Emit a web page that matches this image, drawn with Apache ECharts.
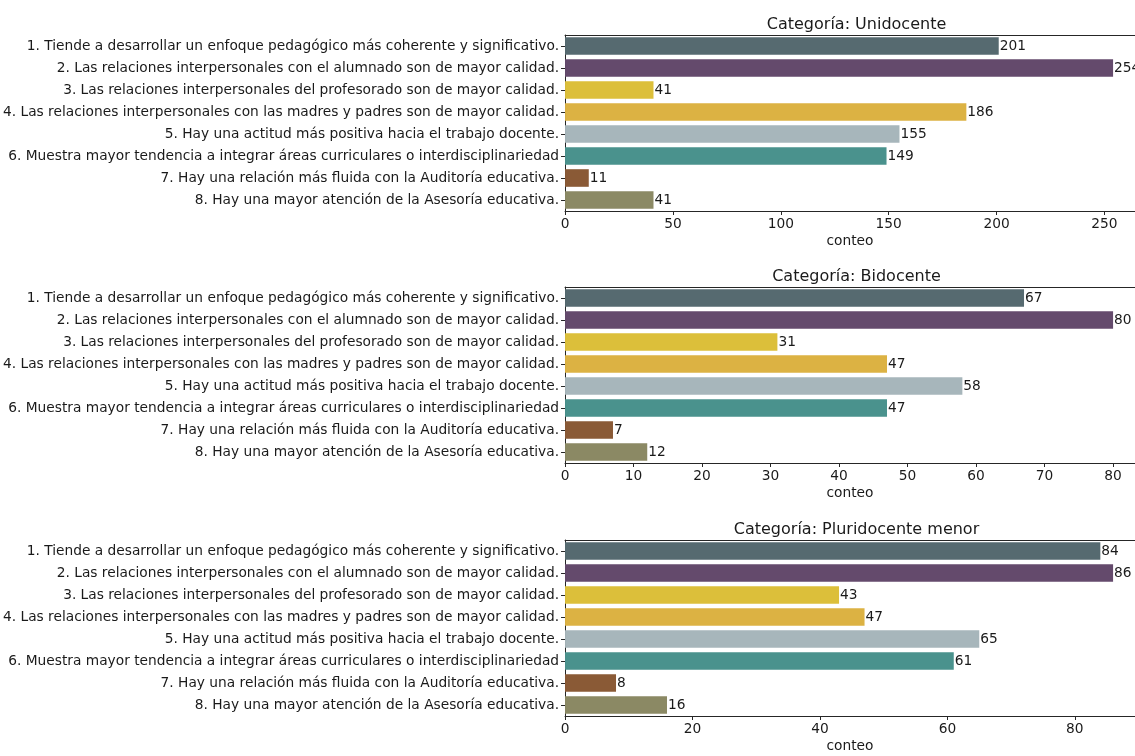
<!DOCTYPE html>
<html><head><meta charset="utf-8">
<script src="https://cdn.jsdelivr.net/npm/echarts@6/dist/echarts.min.js"></script>
<style>html,body{margin:0;padding:0;background:#fff;overflow:hidden}#c{width:1135px;height:756px}</style>
</head><body><div id="c"></div>
<script>
const categories = [
  '1. Tiende a desarrollar un enfoque pedagógico más coherente y significativo.',
  '2. Las relaciones interpersonales con el alumnado son de mayor calidad.',
  '3. Las relaciones interpersonales del profesorado son de mayor calidad.',
  '4. Las relaciones interpersonales con las madres y padres son de mayor calidad.',
  '5. Hay una actitud más positiva hacia el trabajo docente.',
  '6. Muestra mayor tendencia a integrar áreas curriculares o interdisciplinariedad',
  '7. Hay una relación más fluida con la Auditoría educativa.',
  '8. Hay una mayor atención de la Asesoría educativa.'
];
const panelTitles = ['Categoría: Unidocente', 'Categoría: Bidocente', 'Categoría: Pluridocente menor'];
const unidocente = [201, 254, 41, 186, 155, 149, 11, 41];
const bidocente = [67, 80, 31, 47, 58, 47, 7, 12];
const pluridocenteMenor = [84, 86, 43, 47, 65, 61, 8, 16];
const tickIntervals = [50, 10, 20];
const axisName = 'conteo';
const barColors = ['#566a70', '#644a6c', '#dcbf3a', '#dcb243', '#a7b6bb', '#4a928d', '#8a5a36', '#8b8964'];

const panels = [unidocente, bidocente, pluridocenteMenor];
const FONT = 'DejaVu Sans';
const FS = 13.75;
const gridTops = [35, 287, 540];
const gridH = 176;
const gridLeft = 563;
// the reference's axes run ~5px past the picture's right edge (cropped)
const visibleFrac = 1.04;   // fraction of max value visible at the picture edge
const fullRightExtra = 5;   // px the (invisible) axes extend beyond the edge
const W = 1135;
const centerX = gridLeft + (W + fullRightExtra - gridLeft) / 2;
const lineC = '#262626';

const bottomAxes = panels.map((d, i) => ({
  type: 'value', gridIndex: i, position: 'bottom', min: 0, max: Math.max(...d) * visibleFrac,
  interval: tickIntervals[i],
  name: axisName, nameLocation: 'middle', nameGap: 23,
  nameTextStyle: {fontFamily: FONT, fontSize: FS, color: '#1a1a1a'},
  axisLine: {show: true, lineStyle: {color: lineC, width: 1}},
  axisTick: {show: true, length: 4, lineStyle: {color: lineC}},
  axisLabel: {fontFamily: FONT, fontSize: FS, color: '#1a1a1a', margin: 6, showMaxLabel: false},
  splitLine: {show: false}
}));
const topAxes = panels.map((d, i) => ({
  type: 'value', gridIndex: i, position: 'top', min: 0, max: Math.max(...d) * visibleFrac,
  axisLine: {show: true, lineStyle: {color: lineC, width: 1}},
  axisTick: {show: false}, axisLabel: {show: false}, splitLine: {show: false}
}));

const option = {
  backgroundColor: '#ffffff',
  animation: false,
  title: panels.map((_, i) => ({
    text: panelTitles[i],
    left: centerX,
    top: gridTops[i] - 23,
    textAlign: 'center',
    textStyle: {fontFamily: FONT, fontSize: 16, fontWeight: 'normal', color: '#1a1a1a'}
  })),
  grid: panels.map((_, i) => ({
    left: gridLeft, right: 0, top: gridTops[i], height: gridH, show: false
  })),
  xAxis: bottomAxes.concat(topAxes),
  yAxis: panels.map((_, i) => ({
    type: 'category', gridIndex: i, data: categories, inverse: true,
    axisLine: {show: true, lineStyle: {color: lineC, width: 1}},
    axisTick: {show: true, length: 4, alignWithLabel: true, lineStyle: {color: lineC}},
    axisLabel: {fontFamily: FONT, fontSize: FS, color: '#1a1a1a', margin: 6},
    splitLine: {show: false}
  })),
  series: panels.map((d, i) => ({
    type: 'bar', xAxisIndex: i, yAxisIndex: i,
    data: d.map((v, j) => ({value: v, itemStyle: {color: barColors[j]}})),
    barCategoryGap: '20%',
    label: {show: true, position: 'right', distance: 1, fontFamily: FONT, fontSize: FS, color: '#1a1a1a'}
  }))
};
const chart = echarts.init(document.getElementById('c'), null, {renderer: 'canvas'});
chart.setOption(option);
</script>
</body></html>
